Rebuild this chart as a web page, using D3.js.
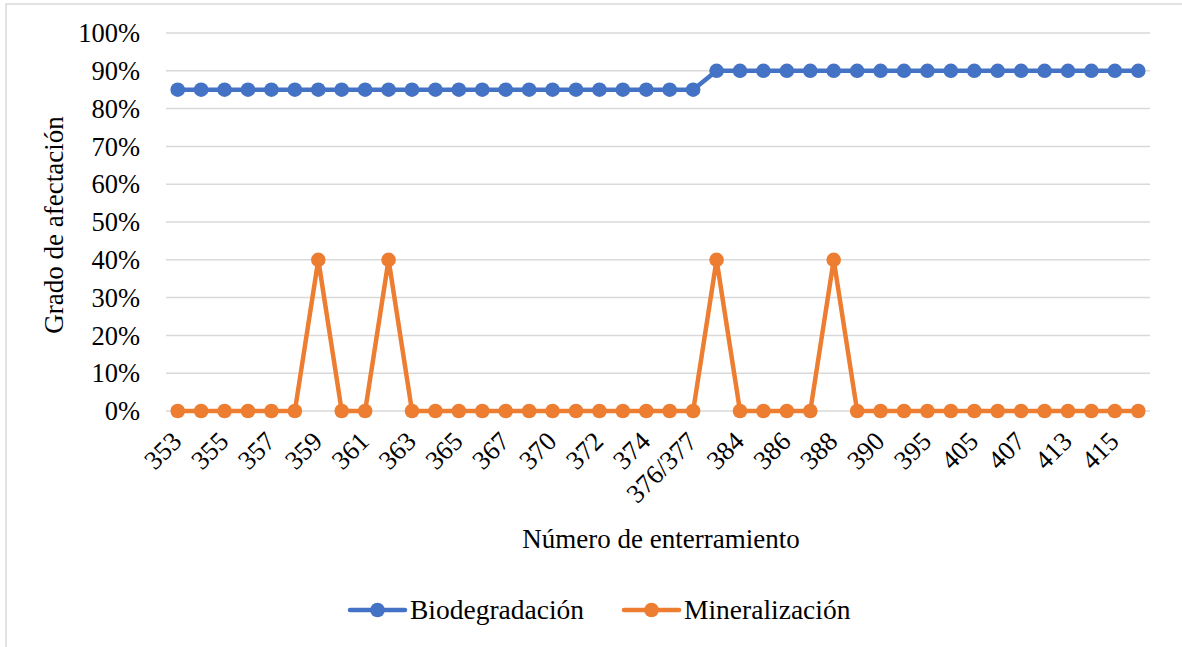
<!DOCTYPE html>
<html>
<head>
<meta charset="utf-8">
<script src="https://cdn.jsdelivr.net/npm/d3@7"></script>
<style>
  body { margin: 0; background: #fff; }
</style>
</head>
<body>
<div id="chart"></div>
<script>
var categories = ["353","354","355","356","357","358","359","360","361","362","363","364",
  "365","366","367","368","370","371","372","373","374","375","376/377","383",
  "384","385","386","387","388","389","390","391","395","396","405","406",
  "407","408","413","414","415","416"];
// every other category shown on the axis
var tickLabels = ["353","355","357","359","361","363","365","367","370","372","374",
  "376/377","384","386","388","390","395","405","407","413","415"];
var biodegradacion = [0.85,0.85,0.85,0.85,0.85,0.85,0.85,0.85,0.85,0.85,0.85,0.85,
  0.85,0.85,0.85,0.85,0.85,0.85,0.85,0.85,0.85,0.85,0.85,0.90,
  0.90,0.90,0.90,0.90,0.90,0.90,0.90,0.90,0.90,0.90,0.90,0.90,
  0.90,0.90,0.90,0.90,0.90,0.90];
var mineralizacion = [0,0,0,0,0,0,0.40,0,0,0.40,0,0,
  0,0,0,0,0,0,0,0,0,0,0,0.40,
  0,0,0,0,0.40,0,0,0,0,0,0,0,
  0,0,0,0,0,0];
var yTicks = [0,0.1,0.2,0.3,0.4,0.5,0.6,0.7,0.8,0.9,1.0];

var W = 1182, H = 647;
var plot = {left:166, right:1150, top:33, bottom:411};
var FONT = "'Liberation Serif', 'Times New Roman', serif";

var svg = d3.select("#chart").append("svg")
  .attr("width", W).attr("height", H);

// outer chart frame
svg.append("rect")
  .attr("x", 6).attr("y", 4)
  .attr("width", W + 10).attr("height", H + 10)
  .attr("fill", "#fff").attr("stroke", "#d9d9d9").attr("stroke-width", 1.5);

var x = d3.scalePoint()
  .domain(categories)
  .range([plot.left, plot.right])
  .padding(0.5);

var y = d3.scaleLinear()
  .domain([0, 1])
  .range([plot.bottom, plot.top]);

// gridlines
svg.append("g")
  .selectAll("line")
  .data(yTicks)
  .enter().append("line")
  .attr("x1", plot.left).attr("x2", plot.right)
  .attr("y1", function(d){ return y(d); })
  .attr("y2", function(d){ return y(d); })
  .attr("stroke", "#d9d9d9").attr("stroke-width", 1.5);

// y axis labels
var yAxis = d3.axisLeft(y)
  .tickValues(yTicks)
  .tickFormat(d3.format(".0%"))
  .tickSize(0)
  .tickPadding(0);

var gy = svg.append("g")
  .attr("transform", "translate(140,0)")
  .call(yAxis);
gy.select(".domain").remove();
gy.selectAll("text")
  .style("font-family", FONT)
  .style("font-size", "26.5px")
  .style("fill", "#000")
  .attr("dy", "0.33em");

// x axis labels
var xAxis = d3.axisBottom(x)
  .tickValues(tickLabels)
  .tickSize(0)
  .tickPadding(0);

var gx = svg.append("g")
  .attr("transform", "translate(0," + plot.bottom + ")")
  .call(xAxis);
gx.select(".domain").remove();
gx.selectAll("text")
  .style("font-family", FONT)
  .style("font-size", "26.5px")
  .style("fill", "#000")
  .attr("text-anchor", "end")
  .attr("y", 0).attr("dy", 0)
  .attr("transform", "translate(5,32) rotate(-45)");

// axis titles
svg.append("text")
  .attr("x", 661)
  .attr("y", 548)
  .attr("text-anchor", "middle")
  .style("font-family", FONT)
  .style("font-size", "27px")
  .text("Número de enterramiento");

svg.append("text")
  .attr("transform", "translate(63,225) rotate(-90)")
  .attr("text-anchor", "middle")
  .style("font-family", FONT)
  .style("font-size", "27px")
  .text("Grado de afectación");

var series = [
  {name:"Biodegradación", color:"#4472c4", values:biodegradacion},
  {name:"Mineralización", color:"#ed7d31", values:mineralizacion}
];

var line = d3.line()
  .x(function(d, i){ return x(categories[i]); })
  .y(function(d){ return y(d); });

var sg = svg.selectAll(".serie")
  .data(series)
  .enter().append("g")
  .attr("class", "serie");

sg.append("path")
  .attr("d", function(d){ return line(d.values); })
  .attr("fill", "none")
  .attr("stroke", function(d){ return d.color; })
  .attr("stroke-width", 4.5)
  .attr("stroke-linejoin", "round");

sg.selectAll("circle")
  .data(function(d){ return d.values.map(function(v, i){ return {v:v, i:i, color:d.color}; }); })
  .enter().append("circle")
  .attr("cx", function(d){ return x(categories[d.i]); })
  .attr("cy", function(d){ return y(d.v); })
  .attr("r", 7.3)
  .attr("fill", function(d){ return d.color; });

// legend
var legendX = [350, 624];
var lg = svg.selectAll(".legend")
  .data(series)
  .enter().append("g")
  .attr("class", "legend")
  .attr("transform", function(d, i){ return "translate(" + legendX[i] + ",610)"; });

lg.append("line")
  .attr("x1", 0).attr("x2", 55)
  .attr("stroke", function(d){ return d.color; })
  .attr("stroke-width", 4.5)
  .attr("stroke-linecap", "round");
lg.append("circle")
  .attr("cx", 27.5).attr("r", 7.3)
  .attr("fill", function(d){ return d.color; });
lg.append("text")
  .attr("x", 60).attr("dy", "0.33em")
  .style("font-family", FONT)
  .style("font-size", "27.5px")
  .text(function(d){ return d.name; });
</script>
</body>
</html>
